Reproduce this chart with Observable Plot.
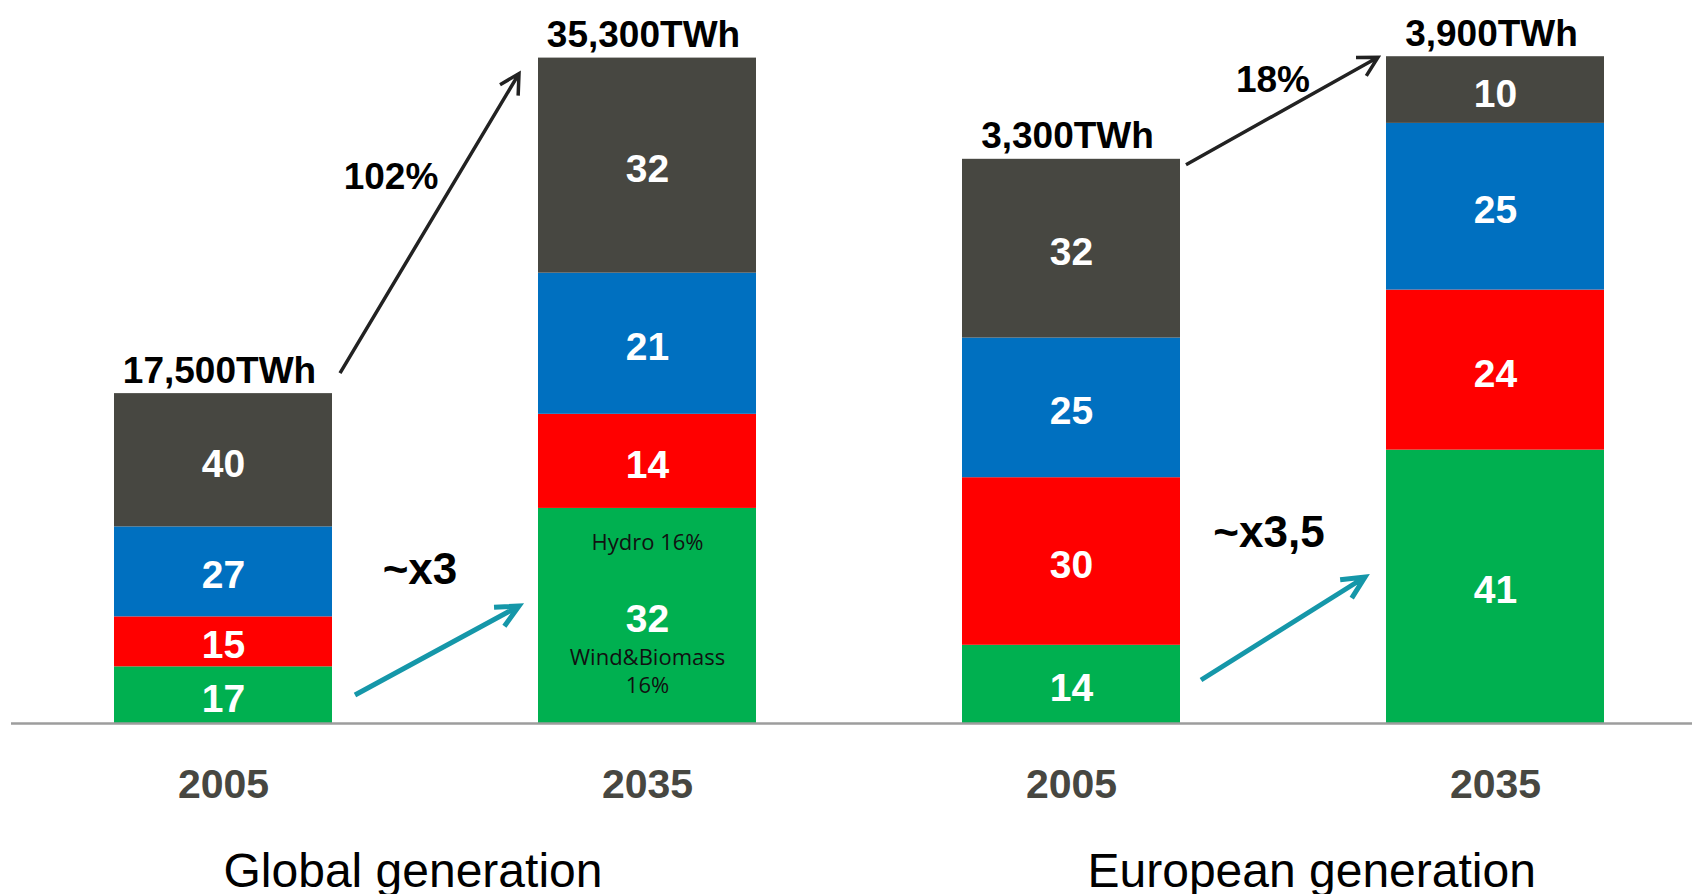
<!DOCTYPE html>
<html>
<head>
<meta charset="utf-8">
<script src="https://cdn.jsdelivr.net/npm/d3@7"></script>
<script src="https://cdn.jsdelivr.net/npm/@observablehq/plot@0.6"></script>
<style>
  html, body { margin: 0; padding: 0; background: #ffffff; overflow: hidden; }
  #chart svg { display: block; }
</style>
</head>
<body>
<div id="chart"></div>
<script>
// ---------- data ----------
const barKeys = ["G2005", "G2035", "E2005", "E2035"];
const years = ["2005", "2035", "2005", "2035"];
const barRegion = ["Global", "Global", "Europe", "Europe"];
const regionKeys = ["Global", "Europe"];
const regionTitles = ["Global generation", "European generation"];
const totalTWh = [17500, 35300, 3300, 3900];

// stacked bottom -> top
const sources = ["Renewables", "Nuclear", "Gas", "Coal"];
const renewablesShare = [17, 32, 14, 41];
const nuclearShare = [15, 14, 30, 24];
const gasShare = [27, 21, 25, 25];
const coalShare = [40, 32, 32, 10];

const growthLabels = ["102%", "18%"];
const multiplierLabels = ["~x3", "~x3,5"];
const renewablesSplitTop = "Hydro 16%";
const renewablesSplitBottom = "Wind&Biomass\n16%";

// ---------- styling ----------
const palette = ["#00b050", "#ff0000", "#0070c0", "#474741"];
const PX_PER_UNIT = 0.01885;      // vertical px per TWh for the global panel
const EUROPE_SCALE = 9.07;        // European bars are drawn at a larger scale in the original
const FONT = "'Liberation Sans', Arial, Helvetica, sans-serif";

// ---------- build rows ----------
const shareArrays = [renewablesShare, nuclearShare, gasShare, coalShare];
const rows = [];
barKeys.forEach((bar, i) => {
  const sum = shareArrays.reduce((s, a) => s + a[i], 0);
  const factor = barRegion[i] === "Europe" ? EUROPE_SCALE : 1;
  sources.forEach((src, j) => {
    const share = shareArrays[j][i];
    rows.push({
      bar, source: src, share,
      h: share / sum * totalTWh[i] * factor,
      noteTop: bar === "G2035" && src === "Renewables" ? renewablesSplitTop : "",
      noteBottom: bar === "G2035" && src === "Renewables" ? renewablesSplitBottom : ""
    });
  });
});
const barRows = barKeys.map((bar, i) => ({
  bar, year: years[i], region: barRegion[i], total: totalTWh[i],
  h: totalTWh[i] * (barRegion[i] === "Europe" ? EUROPE_SCALE : 1)
}));
const regionRows = regionKeys.map((r, i) => ({
  region: r, title: regionTitles[i], bar: barKeys[barRegion.indexOf(r)]
}));

const W = 1692, H = 894, BASE = 723;

const stackOpts = {x: "bar", y: "h", z: "source", order: null};

const chart = Plot.plot({
  width: W,
  height: H,
  marginTop: 0,
  marginBottom: H - BASE,
  marginLeft: 11,
  marginRight: 0,
  style: {fontFamily: FONT, background: "#ffffff", overflow: "visible"},
  x: {domain: barKeys, range: [114, 1604], paddingInner: 0.486, paddingOuter: 0, axis: null},
  y: {domain: [0, BASE / PX_PER_UNIT], axis: null},
  color: {domain: sources, range: palette},
  marks: [
    Plot.barY(rows, Plot.stackY({...stackOpts, fill: "source"})),
    Plot.ruleY([0], {stroke: "#9d9d9d", strokeWidth: 2.5}),
    // segment values
    Plot.text(rows, Plot.stackY({
      ...stackOpts, text: d => String(d.share),
      fill: "#ffffff", fontWeight: "bold", fontSize: 39, dy: 4
    })),
    // renewables split notes
    Plot.text(rows, Plot.stackY({
      ...stackOpts, text: "noteTop",
      fill: "#111111", fontFamily: "'Open Sans', 'Noto Sans', sans-serif", fontSize: 22, dy: -73
    })),
    Plot.text(rows, Plot.stackY({
      ...stackOpts, text: "noteBottom",
      fill: "#111111", fontFamily: "'Open Sans', 'Noto Sans', sans-serif", fontSize: 22,
      lineHeight: 1.27, dy: 54
    })),
    // totals above bars
    Plot.text(barRows, {
      x: "bar", y: "h", text: d => d.total.toLocaleString("en-US") + "TWh",
      lineAnchor: "bottom", dy: -11, dx: -4,
      fill: "#000000", fontWeight: "bold", fontSize: 37
    }),
    // year labels
    Plot.text(barRows, {
      x: "bar", y: () => 0, text: "year",
      dy: 61, fill: "#474741", fontWeight: "bold", fontSize: 41
    }),
    // region titles
    Plot.text(regionRows.filter(d => d.region === "Global"), {
      x: "bar", y: () => 0, text: "title", textAnchor: "start", lineAnchor: "bottom",
      dy: 163, dx: 0, fill: "#000000", fontSize: 48
    }),
    Plot.text(regionRows.filter(d => d.region === "Europe"), {
      x: "bar", y: () => 0, text: "title", textAnchor: "start", lineAnchor: "bottom",
      dy: 163, dx: 16, fill: "#000000", fontSize: 48
    })
  ]
});

document.getElementById("chart").appendChild(chart);

// ---------- annotations positioned with the plot's own scales ----------
const sx = chart.scale("x");
const sy = chart.scale("y");
const bw = sx.bandwidth;
const left = k => sx.apply(k);
const right = k => sx.apply(k) + bw;
const topOf = k => sy.apply(barRows.find(d => d.bar === k).h);
const base = sy.apply(0);

const svg = d3.select(chart);
const g = svg.append("g").attr("class", "annotations");

function arrow(x1, y1, x2, y2, color, width, head, angle) {
  const a = Math.atan2(y2 - y1, x2 - x1);
  const p1 = [x2 - head * Math.cos(a - angle), y2 - head * Math.sin(a - angle)];
  const p2 = [x2 - head * Math.cos(a + angle), y2 - head * Math.sin(a + angle)];
  g.append("path")
    .attr("d", `M${x1},${y1}L${x2},${y2}M${p1[0]},${p1[1]}L${x2},${y2}L${p2[0]},${p2[1]}`)
    .attr("fill", "none")
    .attr("stroke", color)
    .attr("stroke-width", width)
    .attr("stroke-linecap", "butt")
    .attr("stroke-linejoin", "miter");
}
function label(x, y, text, size) {
  g.append("text")
    .attr("x", x).attr("y", y)
    .attr("text-anchor", "middle")
    .attr("dy", "0.35em")
    .attr("font-family", FONT)
    .attr("font-weight", "bold")
    .attr("font-size", size)
    .attr("fill", "#000000")
    .text(text);
}

// growth arrows (black)
arrow(right("G2005") + 8, topOf("G2005") - 20, left("G2035") - 19, topOf("G2035") + 16, "#222222", 3.5, 22, 0.5);
arrow(right("E2005") + 6, topOf("E2005") + 6, left("E2035") - 8, topOf("E2035") + 1, "#222222", 3.5, 22, 0.5);
label(right("G2005") + 59, base - 547, growthLabels[0], 37);
label(right("E2005") + 93, base - 644, growthLabels[1], 37);

// renewables multiplier arrows (teal)
arrow(right("G2005") + 23, base - 28, left("G2035") - 19, base - 117, "#1597a9", 5, 25, 0.45);
arrow(right("E2005") + 21, base - 43, left("E2035") - 21, base - 146, "#1597a9", 5, 25, 0.45);
label(right("G2005") + 88, base - 154, multiplierLabels[0], 44);
label(right("E2005") + 89, base - 191, multiplierLabels[1], 44);
</script>
</body>
</html>
